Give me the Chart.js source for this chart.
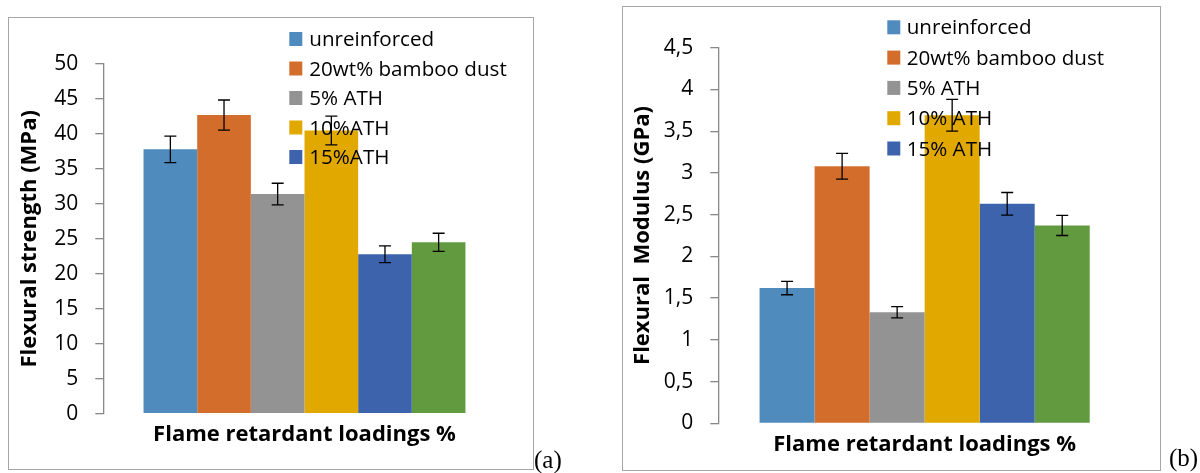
<!DOCTYPE html>
<html>
<head>
<meta charset="utf-8">
<script src="https://cdn.jsdelivr.net/npm/chart.js@4.4.0/dist/chart.umd.min.js"></script>
<style>
  html, body { margin: 0; padding: 0; background: #fff; }
  body { width: 1200px; height: 473px; position: relative; overflow: hidden; font-family: "Open Sans", sans-serif; }
  .panel { position: absolute; border: 1.5px solid #a6a6a6; box-sizing: border-box; }
  .cv { position: absolute; top: 0; width: 600px; height: 473px; }
  .tag { position: absolute; font-family: "Liberation Serif", "Times New Roman", serif; font-size: 25px; line-height: 25px; color: #000; }
</style>
</head>
<body>
<div class="panel" style="left:8px;top:17px;width:526px;height:453px;"></div>
<div class="panel" style="left:622px;top:6px;width:539px;height:465px;"></div>
<div class="cv" style="left:0;"><canvas id="chartA" width="600" height="473"></canvas></div>
<div class="cv" style="left:600px;"><canvas id="chartB" width="600" height="473"></canvas></div>
<span class="tag" style="left:534px;top:447px;">(a)</span>
<span class="tag" style="left:1169px;top:445px;">(b)</span>

<script>
// ===== data =====
var CATEGORIES = [""];
var SERIES_A = ["unreinforced", "20wt% bamboo dust", "5% ATH", "10%ATH", "15%ATH", ""];
var SERIES_B = ["unreinforced", "20wt% bamboo dust", "5% ATH", "10% ATH", "15% ATH", ""];
var STRENGTH = [37.8, 42.7, 31.4, 40.5, 22.8, 24.5];
var STRENGTH_ERR = [1.9, 2.15, 1.55, 2.05, 1.2, 1.3];
var MODULUS = [1.62, 3.08, 1.33, 3.69, 2.63, 2.37];
var MODULUS_ERR = [0.08, 0.155, 0.067, 0.19, 0.135, 0.12];
var STRENGTH_TICKS = ["0", "5", "10", "15", "20", "25", "30", "35", "40", "45", "50"];
var MODULUS_TICKS = ["0", "0,5", "1", "1,5", "2", "2,5", "3", "3,5", "4", "4,5"];

var COLORS = ["#4f8bbd", "#d36d2c", "#939393", "#e1a900", "#3c63ac", "#629a40"];
var X_TITLE = "Flame retardant loadings %";

// legend + error bars, drawn over the bars
var overlay = {
  id: "overlay",
  afterDatasetsDraw: function (chart, args, opts) {
    var ctx = chart.ctx;
    var ds = chart.data.datasets;
    ctx.save();
    ctx.font = "20.6px 'Open Sans'";
    ctx.textBaseline = "alphabetic";
    ctx.textAlign = "left";
    for (var i = 0; i < ds.length; i++) {
      if (!ds[i].label) continue;
      var cy = opts.y0 + i * opts.step;
      ctx.fillStyle = ds[i].backgroundColor;
      ctx.fillRect(opts.x, cy - 7, 13, 14);
      ctx.fillStyle = "#000";
      ctx.fillText(ds[i].label, opts.x + opts.gap, cy + 7);
    }
    var y = chart.scales.y;
    ctx.strokeStyle = "#000";
    ctx.lineWidth = 1.3;
    for (var j = 0; j < ds.length; j++) {
      var bar = chart.getDatasetMeta(j).data[0];
      var v = ds[j].data[0], e = opts.errors[j];
      var top = y.getPixelForValue(v + e), bot = y.getPixelForValue(v - e);
      ctx.beginPath();
      ctx.moveTo(bar.x, top); ctx.lineTo(bar.x, bot);
      ctx.moveTo(bar.x - 6, top); ctx.lineTo(bar.x + 6, top);
      ctx.moveTo(bar.x - 6, bot); ctx.lineTo(bar.x + 6, bot);
      ctx.stroke();
    }
    ctx.restore();
  }
};

function makeChart(id, labels, values, errors, ticks, max, step, yTitle, geo) {
  var datasets = [];
  for (var i = 0; i < values.length; i++) {
    datasets.push({ label: labels[i], data: [values[i]], backgroundColor: COLORS[i], borderWidth: 0 });
  }
  var titleFont = { family: "Open Sans", size: 22, weight: "bold" };
  return new Chart(document.getElementById(id), {
    type: "bar",
    data: { labels: CATEGORIES, datasets: datasets },
    plugins: [overlay],
    options: {
      responsive: false,
      animation: false,
      devicePixelRatio: 1,
      barPercentage: 1,
      categoryPercentage: 0.8,
      layout: { padding: { left: geo.left, right: geo.right, top: geo.top, bottom: geo.bottom } },
      plugins: {
        legend: { display: false },
        tooltip: { enabled: false },
        overlay: { x: geo.lx, y0: geo.ly, step: geo.lstep, gap: geo.lgap, errors: errors }
      },
      scales: {
        x: {
          grid: { display: false },
          border: { display: false },
          ticks: { display: false },
          title: { display: true, text: X_TITLE, color: "#000", font: titleFont, padding: 0 },
          afterFit: function (s) { s.height = geo.xh; }
        },
        y: {
          min: 0, max: max,
          ticks: {
            stepSize: step, padding: 17, color: "#000",
            font: { family: "Open Sans", size: 21 },
            callback: function (v, i) { return ticks[i]; }
          },
          grid: { drawOnChartArea: false, drawTicks: true, tickLength: 8, color: "#888", lineWidth: 1.3 },
          border: { display: true, color: "#888", width: 1.3 },
          title: { display: true, text: yTitle, color: "#000", font: titleFont, padding: 0 },
          afterFit: function (s) { s.width = geo.yw; }
        }
      }
    }
  });
}

makeChart("chartA", SERIES_A, STRENGTH, STRENGTH_ERR, STRENGTH_TICKS, 50, 5, "Flexural strength (MPa)",
  { left: 16.3, yw: 87, right: 94.3, top: 64, bottom: 24.8, xh: 34.5, lx: 289.3, ly: 39, lstep: 29.5, lgap: 20 });

makeChart("chartB", SERIES_B, MODULUS, MODULUS_ERR, MODULUS_TICKS, 4.5, 0.5, "Flexural  Modulus (GPa)",
  { left: 29.3, yw: 89, right: 69, top: 47.7, bottom: 15.3, xh: 34.4, lx: 287.3, ly: 27.3, lstep: 30.3, lgap: 19.4 });
</script>
</body>
</html>
